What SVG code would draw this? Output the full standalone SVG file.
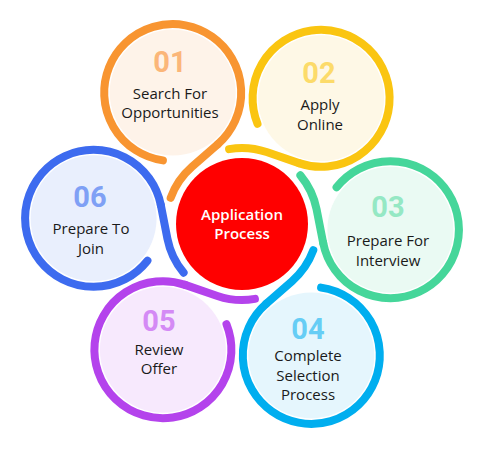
<svg xmlns="http://www.w3.org/2000/svg" width="485" height="450" viewBox="0 0 485 450">
<style>
.ring{fill:none;stroke-width:8;stroke-linecap:round}
.num{font-family:Roboto,"Liberation Sans",sans-serif;font-weight:700;font-size:29px;text-anchor:middle}
.lbl{font-family:"Open Sans","Liberation Sans",sans-serif;font-size:15px;fill:#1a1a1a;text-anchor:middle}
.ctr{font-family:"Open Sans","Liberation Sans",sans-serif;font-size:15px;font-weight:600;fill:#ffffff;text-anchor:middle}
</style>
<rect width="485" height="450" fill="#ffffff"/>
<g id="center">
<circle cx="242" cy="224" r="66" fill="#ff0000"/>
<text class="ctr" x="242" y="220">Application</text>
<text class="ctr" x="242" y="239">Process</text>
</g>
<g id="node01">
<circle cx="172.7" cy="92.6" r="63" fill="#fef3e9"/>
<path class="ring" stroke="#f89531" d="M162.93 160.40 A68.5 68.5 0 1 1 217.77 144.18"/>
<text class="num" x="170" y="72" fill="#fbb679">01</text>
<text class="lbl" x="170" y="99">Search For</text>
<text class="lbl" x="170" y="118">Opportunities</text>
</g>
<g id="node02">
<circle cx="321.1" cy="98.3" r="63" fill="#fef8e6"/>
<path class="ring" stroke="#fac511" d="M257.50 123.74 A68.5 68.5 0 1 1 298.95 163.12"/>
<text class="num" x="319" y="83" fill="#fcdb6a">02</text>
<text class="lbl" x="320" y="110">Apply</text>
<text class="lbl" x="320" y="130">Online</text>
</g>
<g id="node03">
<circle cx="390.4" cy="229.7" r="63" fill="#eafaf3"/>
<path class="ring" stroke="#45d69a" d="M336.57 187.34 A68.5 68.5 0 1 1 323.19 242.92"/>
<text class="num" x="388" y="217" fill="#95e8c4">03</text>
<text class="lbl" x="388" y="246">Prepare For</text>
<text class="lbl" x="388" y="266">Interview</text>
</g>
<g id="node04">
<circle cx="311.3" cy="355.4" r="63" fill="#e5f6fd"/>
<path class="ring" stroke="#00aeef" d="M321.07 287.60 A68.5 68.5 0 1 1 266.23 303.82"/>
<text class="num" x="308" y="339" fill="#66cdf5">04</text>
<text class="lbl" x="308" y="361">Complete</text>
<text class="lbl" x="308" y="381">Selection</text>
<text class="lbl" x="308" y="400">Process</text>
</g>
<g id="node05">
<circle cx="162.9" cy="349.7" r="63" fill="#f7e9fd"/>
<path class="ring" stroke="#b443ec" d="M226.50 324.26 A68.5 68.5 0 1 1 185.05 284.88"/>
<text class="num" x="159" y="331" fill="#d48af5">05</text>
<text class="lbl" x="159" y="355">Review</text>
<text class="lbl" x="159" y="374">Offer</text>
</g>
<g id="node06">
<circle cx="93.6" cy="218.3" r="63" fill="#e9effd"/>
<path class="ring" stroke="#3d6bef" d="M147.43 260.66 A68.5 68.5 0 1 1 160.81 205.08"/>
<text class="num" x="90" y="207" fill="#7fa0f5">06</text>
<text class="lbl" x="91" y="234">Prepare To</text>
<text class="lbl" x="91" y="254">Join</text>
</g>
<g id="connectors">
<path class="ring" stroke="#f89531" d="M217.77 144.18 L191.99 166.77 A76 76 0 0 0 170.67 197.76"/>
<path class="ring" stroke="#fac511" d="M298.95 163.12 L266.58 152.08 A76 76 0 0 0 229.06 149.11"/>
<path class="ring" stroke="#45d69a" d="M323.19 242.92 L316.57 209.33 A76 76 0 0 0 300.39 175.35"/>
<path class="ring" stroke="#00aeef" d="M266.23 303.82 L292.01 281.23 A76 76 0 0 0 313.33 250.24"/>
<path class="ring" stroke="#b443ec" d="M185.05 284.88 L217.42 295.92 A76 76 0 0 0 254.94 298.89"/>
<path class="ring" stroke="#3d6bef" d="M160.81 205.08 L167.43 238.67 A76 76 0 0 0 183.61 272.65"/>
</g>
</svg>
